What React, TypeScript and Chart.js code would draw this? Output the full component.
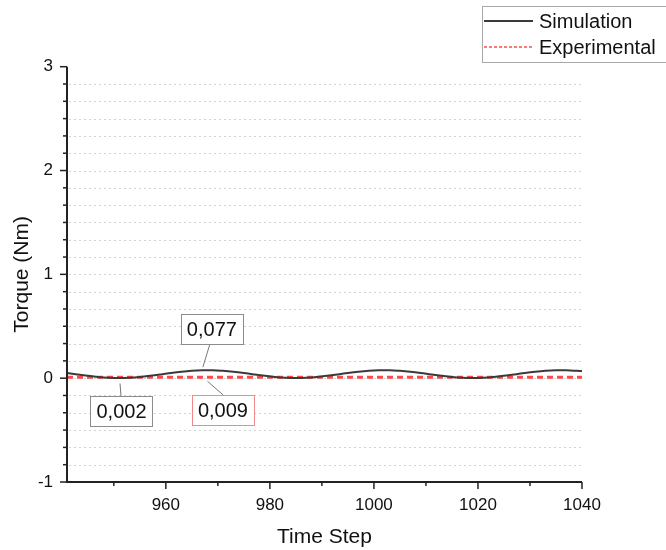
import React, { useEffect, useRef } from "react";
import { Chart, registerables } from "chart.js";

Chart.register(...registerables);

// ---- data ----
const timeSteps = [
  941, 943, 945, 947, 949, 951, 953, 955, 957, 959, 961, 963, 965, 967, 969, 971, 973, 975, 977, 979,
  981, 983, 985, 987, 989, 991, 993, 995, 997, 999, 1001, 1003, 1005, 1007, 1009, 1011, 1013, 1015,
  1017, 1019, 1021, 1023, 1025, 1027, 1029, 1031, 1033, 1035, 1037, 1039, 1040,
];
const simulationTorque = [
  0.05, 0.036, 0.023, 0.012, 0.005, 0.002, 0.005, 0.012, 0.023, 0.036, 0.05, 0.062, 0.071, 0.076,
  0.077, 0.071, 0.062, 0.05, 0.036, 0.023, 0.012, 0.005, 0.002, 0.005, 0.012, 0.023, 0.036, 0.05,
  0.062, 0.071, 0.076, 0.077, 0.071, 0.062, 0.05, 0.036, 0.023, 0.012, 0.005, 0.002, 0.005, 0.012,
  0.023, 0.036, 0.05, 0.062, 0.071, 0.076, 0.076, 0.071, 0.068,
];
const experimentalSteps = [941, 1040];
const experimentalTorque = [0.009, 0.009];

const xMajorTicks = [960, 980, 1000, 1020, 1040];
const xMinorTicks = [950, 970, 990, 1010, 1030];
const yMajorTicks = [-1, 0, 1, 2, 3];
const yMinorDivisions = 6;

const annotationLabels = ["0,077", "0,002", "0,009"];
const annotationSteps = [967.5, 951, 968];
const annotationValues = [0.077, 0.002, 0.009];

// ---- styles ----
const FONT = "'Liberation Sans', Arial, sans-serif";
const SIM_COLOR = "#3a3a3a";
const EXP_COLOR = "#ff4a4a";
const annotationStyles = [
  { boxDx: 7, boxDy: -41, lineFrom: [5, 15], lineTo: [-2, 3], border: "#8c8c8c" },
  { boxDx: 2.5, boxDy: 33.5, lineFrom: [2, -15], lineTo: [1, 5.5], border: "#8c8c8c" },
  { boxDx: 15.5, boxDy: 33, lineFrom: [16, -16], lineTo: [0, 4], border: "#f08a8a" },
];

const drawPlugin = {
  id: "originStyle",
  beforeDatasetsDraw(chart: any) {
    const { ctx, chartArea } = chart;
    const xs = chart.scales.x;
    const ys = chart.scales.y;
    ctx.save();
    // dotted grid lines
    ctx.strokeStyle = "#d2d2d2";
    ctx.lineWidth = 1;
    ctx.setLineDash([2, 3]);
    const yMin = yMajorTicks[0];
    const yMax = yMajorTicks[yMajorTicks.length - 1];
    const n = (yMax - yMin) * yMinorDivisions;
    for (let i = 1; i < n; i++) {
      const v = yMin + i / yMinorDivisions;
      const py = Math.round(ys.getPixelForValue(v)) + 0.5;
      ctx.beginPath();
      ctx.moveTo(chartArea.left + 2, py);
      ctx.lineTo(chartArea.right, py);
      ctx.stroke();
    }
    ctx.setLineDash([]);
    ctx.restore();
  },
  afterDatasetsDraw(chart: any) {
    const { ctx, chartArea } = chart;
    const xs = chart.scales.x;
    const ys = chart.scales.y;
    ctx.save();
    // axis lines
    ctx.strokeStyle = "#222";
    ctx.lineWidth = 2;
    ctx.beginPath();
    ctx.moveTo(chartArea.left, chartArea.top);
    ctx.lineTo(chartArea.left, chartArea.bottom);
    ctx.lineTo(chartArea.right, chartArea.bottom);
    ctx.stroke();
    // y ticks
    ctx.lineWidth = 1.5;
    const yMin = yMajorTicks[0];
    const yMax = yMajorTicks[yMajorTicks.length - 1];
    const n = (yMax - yMin) * yMinorDivisions;
    for (let i = 0; i <= n; i++) {
      const v = yMin + i / yMinorDivisions;
      const py = ys.getPixelForValue(v);
      const len = i % yMinorDivisions === 0 ? 7 : 4;
      ctx.beginPath();
      ctx.moveTo(chartArea.left, py);
      ctx.lineTo(chartArea.left - len, py);
      ctx.stroke();
    }
    // x ticks
    xMajorTicks.forEach((v) => {
      const px = xs.getPixelForValue(v);
      ctx.beginPath();
      ctx.moveTo(px, chartArea.bottom);
      ctx.lineTo(px, chartArea.bottom + 7);
      ctx.stroke();
    });
    xMinorTicks.forEach((v) => {
      const px = xs.getPixelForValue(v);
      ctx.beginPath();
      ctx.moveTo(px, chartArea.bottom);
      ctx.lineTo(px, chartArea.bottom + 4);
      ctx.stroke();
    });

    // annotations
    ctx.font = `20px ${FONT}`;
    ctx.textAlign = "center";
    ctx.textBaseline = "middle";
    annotationLabels.forEach((label, i) => {
      const st = annotationStyles[i];
      const tx = xs.getPixelForValue(annotationSteps[i]);
      const ty = ys.getPixelForValue(annotationValues[i]);
      const cx = tx + st.boxDx;
      const cy = ty + st.boxDy;
      const w = ctx.measureText(label).width + 12;
      const h = 30;
      // leader
      ctx.strokeStyle = "#777";
      ctx.lineWidth = 1;
      ctx.beginPath();
      ctx.moveTo(cx + st.lineFrom[0] - st.boxDx + (st.boxDx - 0), 0);
      ctx.stroke();
      ctx.beginPath();
      ctx.moveTo(tx + st.lineFrom[0], cy + (st.boxDy < 0 ? h / 2 : -h / 2));
      ctx.lineTo(tx + st.lineTo[0], ty + (st.boxDy < 0 ? -st.lineTo[1] : st.lineTo[1]));
      ctx.stroke();
      // box
      ctx.fillStyle = "#fff";
      ctx.fillRect(cx - w / 2, cy - h / 2, w, h);
      ctx.strokeStyle = st.border;
      ctx.strokeRect(Math.round(cx - w / 2) + 0.5, Math.round(cy - h / 2) + 0.5, Math.round(w), h);
      ctx.fillStyle = "#111";
      ctx.fillText(label, cx, cy + 1);
    });

    // legend
    const lx = 482.5;
    const lyTop = 6.5;
    ctx.fillStyle = "#fff";
    ctx.fillRect(lx, lyTop, 200, 56);
    ctx.strokeStyle = "#a8a8a8";
    ctx.lineWidth = 1;
    ctx.strokeRect(lx, lyTop, 200, 56);
    const items = chart.data.datasets;
    items.forEach((ds: any, i: number) => {
      const y = 21 + i * 26;
      ctx.strokeStyle = ds.borderColor;
      ctx.lineWidth = i === 0 ? 2 : 1.5;
      ctx.setLineDash(i === 0 ? [] : [3, 2]);
      ctx.beginPath();
      ctx.moveTo(484, y);
      ctx.lineTo(533, y);
      ctx.stroke();
      ctx.setLineDash([]);
      ctx.fillStyle = "#111";
      ctx.textAlign = "left";
      ctx.textBaseline = "middle";
      ctx.font = `20px ${FONT}`;
      ctx.fillText(ds.label, 539, y + 1);
    });
    ctx.restore();
  },
};

export default function App() {
  const ref = useRef<HTMLCanvasElement>(null);
  useEffect(() => {
    if (!ref.current) return;
    const chart = new Chart(ref.current, {
      type: "line",
      data: {
        datasets: [
          {
            label: "Simulation",
            data: timeSteps.map((t, i) => ({ x: t, y: simulationTorque[i] })),
            borderColor: SIM_COLOR,
            borderWidth: 2,
            pointRadius: 0,
            tension: 0.35,
            fill: false,
          },
          {
            label: "Experimental",
            data: experimentalSteps.map((t, i) => ({ x: t, y: experimentalTorque[i] })),
            borderColor: EXP_COLOR,
            borderWidth: 3,
            borderDash: [6, 4],
            pointRadius: 0,
            fill: false,
          },
        ],
      },
      options: {
        animation: false,
        responsive: false,
        layout: { padding: { top: 66.7, right: 84, left: 0, bottom: 0 } },
        plugins: { legend: { display: false }, tooltip: { enabled: false } },
        scales: {
          x: {
            type: "linear",
            min: 941,
            max: 1040,
            grid: { display: false, drawTicks: false },
            border: { display: false },
            afterBuildTicks: (s: any) => {
              s.ticks = xMajorTicks.map((v) => ({ value: v }));
            },
            afterFit: (s: any) => {
              s.height = 68;
            },
            ticks: {
              padding: 13,
              color: "#111",
              font: { family: FONT, size: 17 },
              maxRotation: 0,
              callback: (v: any) => String(v),
            },
            title: {
              display: true,
              text: "Time Step",
              color: "#111",
              font: { family: FONT, size: 21 },
              padding: { top: 0, bottom: 0.5 },
            },
          },
          y: {
            type: "linear",
            min: yMajorTicks[0],
            max: yMajorTicks[yMajorTicks.length - 1],
            grid: { display: false, drawTicks: false },
            border: { display: false },
            afterBuildTicks: (s: any) => {
              s.ticks = yMajorTicks.map((v) => ({ value: v }));
            },
            afterFit: (s: any) => {
              s.width = 67;
            },
            ticks: {
              padding: 14,
              color: "#111",
              font: { family: FONT, size: 17 },
              callback: (v: any) => String(v),
            },
            title: {
              display: true,
              text: "Torque (Nm)",
              color: "#111",
              font: { family: FONT, size: 21 },
              padding: { top: 9.5, bottom: 0 },
            },
          },
        },
      },
      plugins: [drawPlugin],
    });
    return () => chart.destroy();
  }, []);
  return (
    <div style={{ position: "fixed", left: 0, top: 0, width: 666, height: 550, background: "#fff" }}>
      <canvas ref={ref} width={666} height={550} style={{ display: "block" }} />
    </div>
  );
}
